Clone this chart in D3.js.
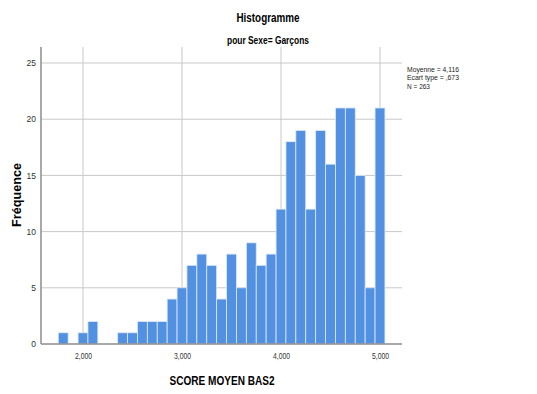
<!DOCTYPE html>
<html>
<head>
<meta charset="utf-8">
<script src="https://cdn.jsdelivr.net/npm/d3@7"></script>
<style>
  body { margin: 0; background: #fff; }
  text { font-family: "Liberation Sans", Arial, sans-serif; }
</style>
</head>
<body>
<svg></svg>
<script>
window.onload = () => {

  const width = 537;
  const height = 394;

  // bin lower edges (width 0.1) and counts
  const binStarts = [1.75, 1.85, 1.95, 2.05, 2.15, 2.25, 2.35, 2.45, 2.55, 2.65, 2.75,
    2.85, 2.95, 3.05, 3.15, 3.25, 3.35, 3.45, 3.55, 3.65, 3.75, 3.85,
    3.95, 4.05, 4.15, 4.25, 4.35, 4.45, 4.55, 4.65, 4.75, 4.85, 4.95];
  const counts = [1, 0, 1, 2, 0, 0, 1, 1, 2, 2, 2,
    4, 5, 7, 8, 7, 4, 8, 5, 9, 7, 8,
    12, 18, 19, 12, 19, 16, 21, 21, 15, 5, 21];
  const binWidth = 0.1;
  const xTicks = [2, 3, 4, 5];
  const yTicks = [0, 5, 10, 15, 20, 25];
  const statsLines = ['Moyenne = 4,116', 'Ecart type = ,673', 'N = 263'];

  const svg = d3.select('svg').attr('width', width).attr('height', height);

  const plot = {left: 41, right: 402, top: 47, bottom: 344};

  const xScale = d3.scaleLinear().domain([2, 5]).range([83, 380]);
  const yScale = d3.scaleLinear().domain([0, 25]).range([plot.bottom, 63]);

  // french style: 2,000
  const fmt = d => d3.format('.3f')(d).replace('.', ',');

  // grid
  svg.append('g')
    .selectAll('line')
    .data(yTicks.filter(d => d > 0))
    .enter()
    .append('line')
    .attr('x1', plot.left).attr('x2', plot.right)
    .attr('y1', d => yScale(d)).attr('y2', d => yScale(d))
    .attr('stroke', '#c8c8c8').attr('stroke-width', 1);

  svg.append('g')
    .selectAll('line')
    .data(xTicks)
    .enter()
    .append('line')
    .attr('x1', d => xScale(d)).attr('x2', d => xScale(d))
    .attr('y1', plot.top).attr('y2', plot.bottom)
    .attr('stroke', '#c8c8c8').attr('stroke-width', 1);

  // bars
  svg.append('g')
    .selectAll('rect')
    .data(binStarts.map((s, i) => ({start: s, count: counts[i]})).filter(d => d.count > 0))
    .enter()
    .append('rect')
    .attr('x', d => xScale(d.start))
    .attr('y', d => yScale(d.count))
    .attr('width', d => xScale(d.start + binWidth) - xScale(d.start))
    .attr('height', d => plot.bottom - yScale(d.count))
    .attr('fill', '#5291e2')
    .attr('stroke', '#dfe9f7')
    .attr('stroke-width', 0.8);

  // axes
  const xAxis = svg.append('g')
    .attr('transform', 'translate(0,' + plot.bottom + ')')
    .call(d3.axisBottom(xScale).tickValues(xTicks).tickFormat(fmt).tickSize(0).tickPadding(9));
  xAxis.select('.domain').remove();
  xAxis.append('line')
    .attr('x1', plot.left).attr('x2', plot.right)
    .attr('stroke', '#8c8c8c').attr('stroke-width', 1.5);
  xAxis.selectAll('.tick text').attr('textLength', 17).attr('lengthAdjust', 'spacingAndGlyphs');

  const yAxis = svg.append('g')
    .attr('transform', 'translate(' + plot.left + ',0)')
    .call(d3.axisLeft(yScale).tickValues(yTicks).tickSize(0).tickPadding(5));
  yAxis.select('.domain').remove();
  yAxis.append('line')
    .attr('y1', plot.top).attr('y2', plot.bottom)
    .attr('stroke', '#8c8c8c').attr('stroke-width', 1.5);

  svg.selectAll('.tick text').attr('font-size', 8.5).attr('fill', '#333')
    .attr('font-family', '"Liberation Sans", Arial, sans-serif');

  // condensed look of the original font
  const narrow = (sel, len) => sel.attr('textLength', len).attr('lengthAdjust', 'spacingAndGlyphs');

  // titles
  svg.append('text')
    .attr('x', 268).attr('y', 22)
    .attr('text-anchor', 'middle')
    .attr('font-size', 13).attr('font-weight', 'bold')
    .text('Histogramme')
    .call(narrow, 63);

  svg.append('text')
    .attr('x', 268).attr('y', 44)
    .attr('text-anchor', 'middle')
    .attr('font-size', 10).attr('font-weight', 'bold')
    .text('pour Sexe= Garçons')
    .call(narrow, 82);

  svg.append('text')
    .attr('transform', 'translate(21,195) rotate(-90)')
    .attr('text-anchor', 'middle')
    .attr('font-size', 12.5).attr('font-weight', 'bold')
    .text('Fréquence')
    .call(narrow, 64);

  svg.append('text')
    .attr('x', 222).attr('y', 385)
    .attr('text-anchor', 'middle')
    .attr('font-size', 13).attr('font-weight', 'bold')
    .text('SCORE MOYEN BAS2')
    .call(narrow, 105);

  // stats
  const statsLen = [52, 52, 23];
  svg.append('g')
    .selectAll('text')
    .data(statsLines)
    .enter()
    .append('text')
    .attr('x', 407)
    .attr('y', (d, i) => 72 + i * 8.4)
    .attr('font-size', 7.6)
    .attr('fill', '#222')
    .attr('textLength', (d, i) => statsLen[i])
    .attr('lengthAdjust', 'spacingAndGlyphs')
    .text(d => d);

};
</script>
</body>
</html>
